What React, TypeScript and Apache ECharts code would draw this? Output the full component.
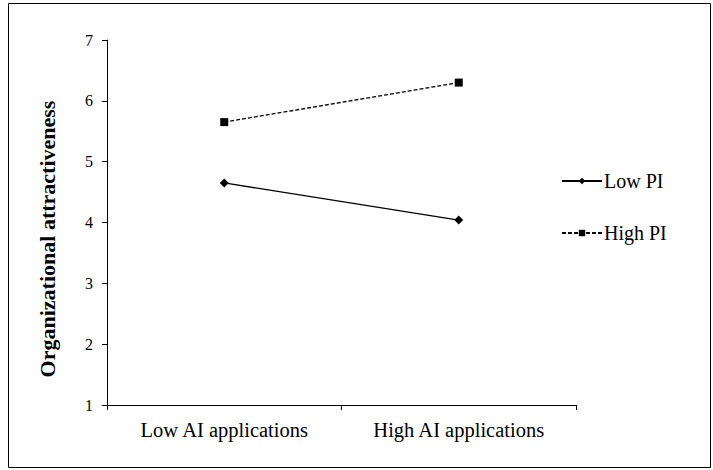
import React, { useEffect, useRef } from "react";
import * as echarts from "echarts";

const categories = ["Low AI applications", "High AI applications"];
const lowPI = [4.65, 4.04];
const highPI = [5.65, 6.3];
const seriesNames = ["Low PI", "High PI"];
const yTitle = "Organizational attractiveness";

const FONT = "'Liberation Serif', 'Times New Roman', serif";

export default function App() {
  const ref = useRef<HTMLDivElement>(null);
  useEffect(() => {
    if (!ref.current) return;
    const chart = echarts.init(ref.current, null, { renderer: "svg" });
    chart.setOption({
      animation: false,
      backgroundColor: "#ffffff",
      textStyle: { fontFamily: FONT, color: "#000" },
      grid: { left: 107, right: 137, top: 40, bottom: 65 },
      legend: {
        orient: "vertical",
        left: 556,
        top: 166,
        itemWidth: 40,
        itemHeight: 8,
        itemGap: 32,
        textStyle: { fontFamily: FONT, fontSize: 20, color: "#000", padding: [0, 0, 0, -3] },
        data: seriesNames,
      },
      xAxis: {
        type: "category",
        data: categories,
        boundaryGap: true,
        axisLine: { lineStyle: { color: "#000", width: 1 } },
        axisTick: { show: true, alignWithLabel: false, length: 5, lineStyle: { color: "#000" } },
        axisLabel: { fontFamily: FONT, fontSize: 20.5, color: "#000", margin: 14 },
        splitLine: { show: false },
      },
      yAxis: {
        type: "value",
        min: 1,
        max: 7,
        interval: 1,
        axisLine: { show: true, lineStyle: { color: "#000", width: 1 } },
        axisTick: { show: true, length: 5, lineStyle: { color: "#000" } },
        axisLabel: { fontFamily: FONT, fontSize: 16, color: "#000", margin: 14 },
        splitLine: { show: false },
      },
      graphic: [
        {
          type: "rect",
          shape: { x: 8.5, y: 3.5, width: 702, height: 464 },
          style: { fill: "none", stroke: "#000", lineWidth: 1 },
          silent: true,
        },
        {
          type: "text",
          x: 47,
          y: 239,
          rotation: Math.PI / 2,
          style: {
            text: yTitle,
            fontFamily: FONT,
            fontSize: 22,
            fontWeight: "bold",
            fill: "#000",
            align: "center",
            verticalAlign: "middle",
          },
        },
      ],
      series: [
        {
          name: seriesNames[0],
          type: "line",
          data: lowPI,
          symbol: "diamond",
          symbolSize: 9,
          itemStyle: { color: "#000" },
          lineStyle: { color: "#000", width: 1.3, type: "solid" },
        },
        {
          name: seriesNames[1],
          type: "line",
          data: highPI,
          symbol: "rect",
          symbolSize: 8,
          itemStyle: { color: "#000" },
          lineStyle: { color: "#000", width: 1.3, type: [4, 2] },
        },
      ],
    });
    return () => chart.dispose();
  }, []);
  return (
    <div
      ref={ref}
      style={{ position: "fixed", left: 0, top: 0, width: 713, height: 470 }}
    />
  );
}
